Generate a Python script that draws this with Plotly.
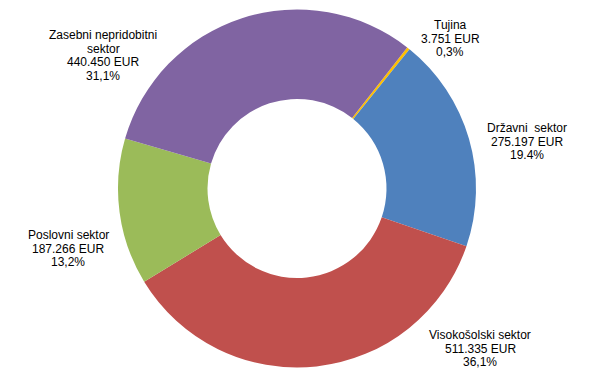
import plotly.graph_objects as go

labels = ["Tujina", "Državni\u00a0 sektor", "Visokošolski sektor", "Poslovni sektor", "Zasebni nepridobitni|sektor"]
values = [3751, 275197, 511335, 187266, 440450]
value_text = ["3.751", "275.197", "511.335", "187.266", "440.450"]
pct_text = ["0,3%", "19.4%", "36,1%", "13,2%", "31,1%"]
colors = ["#FFC000", "#4F81BD", "#C0504D", "#9BBB59", "#8064A2"]

W, H = 593, 380
cx, cy, R = 297, 188.5, 179

fig = go.Figure(go.Pie(
    labels=[l.replace("|", " ") for l in labels], values=values, sort=False, direction="clockwise",
    rotation=38, hole=0.5, textinfo="none", hoverinfo="label+value+percent",
    marker=dict(colors=colors, line=dict(width=0)),
    domain=dict(x=[(cx - R) / W, (cx + R) / W], y=[(H - cy - R) / H, (H - cy + R) / H]),
    showlegend=False,
))

# (center x, y of first line) in pixels
label_pos = [(450, 25), (527, 128), (480, 335), (68, 235), (103, 35)]
LINE = 13.6
for lab, vt, pt, (x, y) in zip(labels, value_text, pct_text, label_pos):
    lines = lab.split("|") + [f"{vt} EUR", pt]
    for i, ln in enumerate(lines):
        fig.add_annotation(
            x=x / W, y=1 - (y + i * LINE) / H, xref="paper", yref="paper",
            text=ln, showarrow=False,
            font=dict(family="Liberation Sans, Arial", size=12, color="#000000"),
            align="center", xanchor="center", yanchor="middle",
        )

fig.update_layout(width=W, height=H, margin=dict(l=0, r=0, t=0, b=0),
                  paper_bgcolor="white", plot_bgcolor="white")
fig.write_html("out.html", config={"displayModeBar": False},
               post_script="document.body.style.margin='0px';")
